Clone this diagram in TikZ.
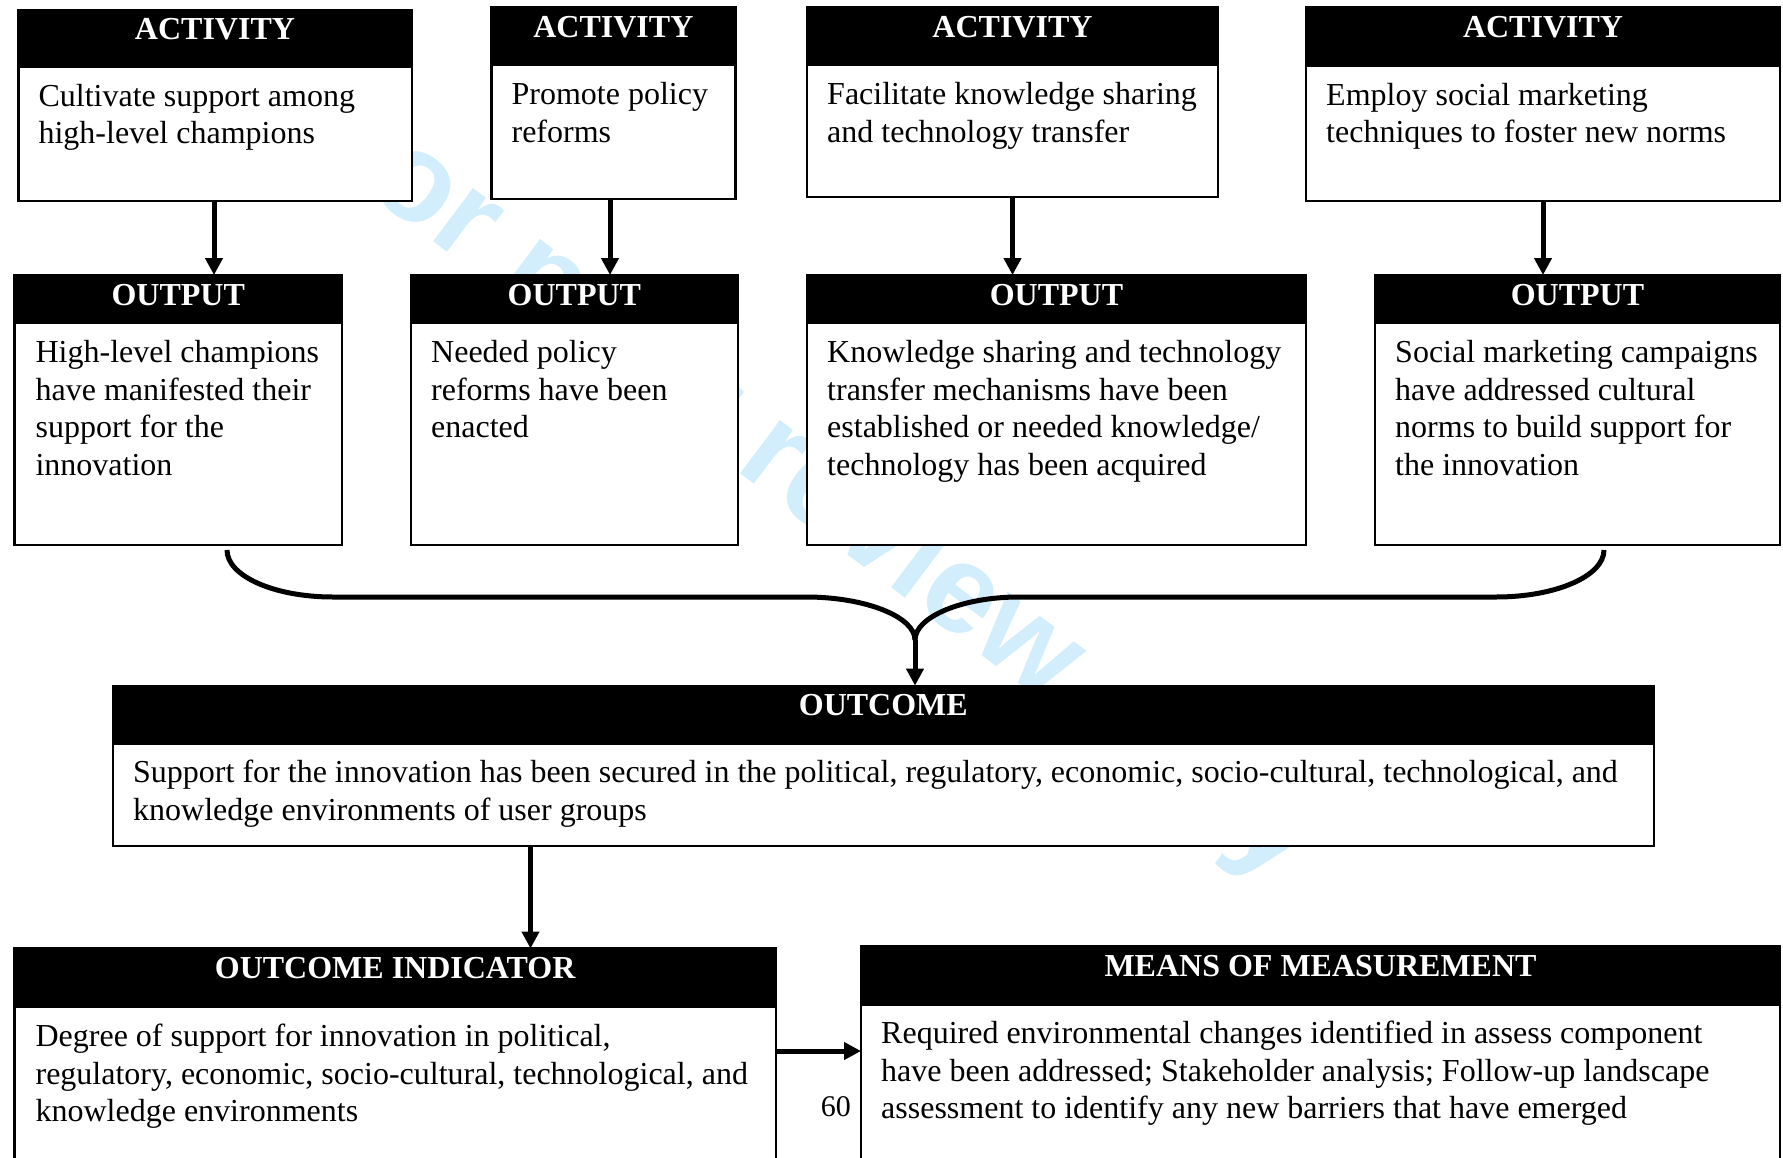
\documentclass[tikz,border=0pt]{standalone}
\usepackage{fontspec}
\setmainfont{Liberation Serif}
\newfontfamily\wmfont{Liberation Sans}
\usetikzlibrary{arrows.meta,calc}
\definecolor{wmblue}{RGB}{210,238,252}

% #1 name, #2 left, #3 top, #4 right, #5 bottom, #6 header bottom,
% #7 text inset, #8 title, #9 body
\newcommand{\blockbox}[9]{%
  \node[boxframe, minimum width={#4-#2}, minimum height={#5-#3}] (#1) at (#2,#3) {};
  \fill[black] (#1.north west) rectangle (#4,#6);
  \node[headtext] (#1-title) at ({(#2+#4)/2},{#3+30}) {#8};
  \node[bodytext] (#1-text) at ({#2+#7},{#6+38-25}) {\rule{0pt}{25pt}#9};
}

\begin{document}
\begin{tikzpicture}[x=1pt,y=-1pt,
  boxframe/.style={draw=black, line width=2.2pt, fill=white, rectangle,
    inner sep=0pt, outer sep=0pt, anchor=north west},
  headtext/.style={text=white, font=\bfseries\fontsize{32}{36}\selectfont,
    anchor=base, inner sep=0pt},
  bodytext/.style={anchor=north west, inner sep=0pt, align=left,
    font=\fontsize{32}{37.5}\selectfont},
  arr/.style={line width=5pt, -{Triangle[length=17pt,width=17pt]}},
  joinline/.style={line width=5pt},
]
\useasboundingbox (0,0) rectangle (1783,1157);
\clip (0,0) rectangle (1783,1157);
\fill[white] (0,0) rectangle (1783,1157);

% background watermark
\node[rotate=-37, anchor=base west, inner sep=0pt, text=wmblue,
  font=\wmfont\bfseries\fontsize{126}{126}\selectfont] (wm) at (303,144) {For peer review only};

% activities
\blockbox{A1}{18.4}{9.6}{411.6}{200.7}{67.9}{20}{ACTIVITY}{Cultivate support among\\high-level champions}
\blockbox{A2}{491.4}{7.1}{735.4}{198.6}{66.4}{20}{ACTIVITY}{Promote policy\\reforms}
\blockbox{A3}{807}{7.1}{1218}{196.8}{66.4}{20}{ACTIVITY}{Facilitate knowledge sharing\\and technology transfer}
\blockbox{A4}{1306}{7.1}{1780}{200.7}{67.1}{20}{ACTIVITY}{Employ social marketing\\techniques to foster new norms}

% outputs
\blockbox{O1}{14.4}{275}{342}{544.6}{324.3}{21}{OUTPUT}{High-level champions\\have manifested their\\support for the\\innovation}
\blockbox{O2}{411}{275}{737.7}{544.6}{324.3}{20}{OUTPUT}{Needed policy\\reforms have been\\enacted}
\blockbox{O3}{807}{275}{1306}{544.6}{324.3}{20}{OUTPUT}{Knowledge sharing and technology\\transfer mechanisms have been\\established or needed knowledge/\\technology has been acquired}
\blockbox{O4}{1375}{275}{1780}{544.6}{324.3}{20}{OUTPUT}{Social marketing campaigns\\have addressed cultural\\norms to build support for\\the innovation}

% outcome
\blockbox{OC}{113}{685.6}{1653.6}{846.2}{744.6}{20}{OUTCOME}{Support for the innovation has been secured in the political, regulatory, economic, socio-cultural, technological, and\\knowledge environments of user groups}

% indicator and measurement
\blockbox{OI}{14.4}{948.5}{776}{1180}{1008.3}{21}{OUTCOME INDICATOR}{Degree of support for innovation in political,\\regulatory, economic, socio-cultural, technological, and\\knowledge environments}
\blockbox{MM}{861}{946.5}{1780}{1180}{1005.6}{20}{MEANS OF MEASUREMENT}{Required environmental changes identified in assess component\\have been addressed; Stakeholder analysis; Follow-up landscape\\assessment to identify any new barriers that have emerged}

% activity to output arrows
\draw[arr] (A1.south -| 214,0) -- (O1.north -| 214,0);
\draw[arr] (A2.south -| 610,0) -- (O2.north -| 610,0);
\draw[arr] (A3.south) -- (A3.south |- O3.north);
\draw[arr] (A4.south) -- (A4.south |- O4.north);

% outputs merging into the outcome
\coordinate (lend) at (227,550);
\coordinate (rend) at (1604,550);
\coordinate (merge) at (915,640);
\draw[joinline] (lend) .. controls (227,576) and (274,597) .. (333,597)
  -- (806,597) .. controls (866,597) and (915,617) .. (merge);
\draw[joinline] (rend) .. controls (1604,576) and (1556,597) .. (1496,597)
  -- (1019,597) .. controls (962,597) and (915,617) .. (merge);
\draw[arr] (merge) -- (merge |- OC.north);

% outcome to indicator, indicator to measurement
\draw[arr] (OC.south -| 530.5,0) -- (OI.north -| 530.5,0);
\draw[arr] (OI.east |- 0,1051) -- (MM.west |- 0,1051);

\node[anchor=base east, inner sep=0pt, font=\fontsize{30}{30}\selectfont] (pg) at (851,1116) {60};
\end{tikzpicture}
\end{document}
